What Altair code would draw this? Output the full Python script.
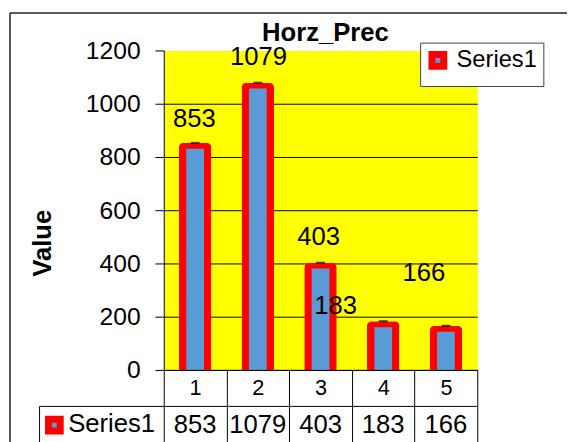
import altair as alt
import pandas as pd

# ---- data ----
categories = ["1", "2", "3", "4", "5"]
values = [853, 1079, 403, 183, 166]
series_name = "Series1"
chart_title = "Horz_Prec"
y_title = "Value"
y_ticks = [0, 200, 400, 600, 800, 1000, 1200]
# where the data labels sit in the picture (category units / value units)
label_pos = [0.99, 2.01, 2.97, 3.24, 4.65]
label_height = [944, 1174, 500, 241, 363]

df = pd.DataFrame({
    "cat": categories,
    "value": values,
    "series": [series_name] * len(categories),
    "label_pos": label_pos,
    "label_height": label_height,
})

FONT = "Liberation Sans"
W, H = 318, 324
BLUE = "#5B9BD5"
RED = "#FF0000"

band = alt.Scale(domain=categories, paddingInner=0, paddingOuter=0)
yscale = alt.Scale(domain=[0, 1200], nice=False, zero=True)

x_axis = alt.Axis(
    title=None, labelAngle=0, grid=False, tickBand="extent", tickSize=77,
    tickColor="black", domainColor="black", labelColor="black",
    labelFontSize=22, labelBaseline="middle", labelPadding=-59, zindex=1,
)
y_axis = alt.Axis(
    values=y_ticks, format="d", title=y_title, grid=True, gridColor="black",
    gridOpacity={"condition": {"test": "datum.value >= 1200", "value": 0}, "value": 1},
    domainColor="black", tickColor="black", tickSize=9, labelColor="black",
    labelFontSize=25, labelPadding=15, titleFontSize=26, titleFontWeight="bold",
    titleColor="black", titleX=-123, titleY=195, titleAngle=270,
    titleAlign="center", titleBaseline="middle",
)

base = alt.Chart(df)

# red outer bar, blue inner bar
bars_outer = base.mark_bar(size=33, color=RED, cornerRadiusEnd=5).encode(
    x=alt.X("cat:O", scale=band, axis=x_axis),
    y=alt.Y("value:Q", scale=yscale, axis=y_axis),
)
bars_inner = base.mark_bar(size=18, yOffset=6, clip=True).encode(
    x=alt.X("cat:O", scale=band, axis=None),
    y=alt.Y("value:Q", scale=yscale, axis=y_axis),
    color=alt.Color("series:N", scale=alt.Scale(domain=[series_name], range=[BLUE]),
                    legend=alt.Legend(
        title=None, orient="none", legendX=260, legendY=-8, padding=6,
        strokeColor="#404040", fillColor="white",
        labelFontSize=24, labelColor="black", labelOffset=7,
        symbolType="square", symbolSize=144, symbolStrokeColor=RED,
        symbolStrokeWidth=7, symbolFillColor=BLUE, symbolOpacity=1,
    )),
)

caps = base.mark_tick(color="black", thickness=2, size=9).encode(
    x=alt.X("cat:O", scale=band, axis=None),
    y=alt.Y("value:Q", scale=yscale, axis=y_axis),
)

labels = base.mark_text(fontSize=26, font=FONT, color="black", baseline="middle",
                        align="center").encode(
    x=alt.X("label_pos:Q", scale=alt.Scale(domain=[0.5, 5.5], nice=False, zero=False), axis=None),
    y=alt.Y("label_height:Q", scale=yscale, axis=y_axis),
    text="value:Q",
)

table_vals = base.mark_text(fontSize=26, font=FONT, color="black", baseline="middle",
                            align="center").encode(
    x=alt.X("cat:O", scale=band, axis=None),
    y=alt.value(380),
    text="value:Q",
)

key_df = pd.DataFrame({"name": [series_name]})
table_key = alt.Chart(key_df).mark_point(shape="square", size=144, filled=True,
                                         fill=BLUE, stroke=RED, strokeWidth=7,
                                         opacity=1).encode(
    x=alt.value(-111), y=alt.value(380),
)
table_name = alt.Chart(key_df).mark_text(fontSize=26, font=FONT, color="black",
                                         align="left", baseline="middle").encode(
    x=alt.value(-97), y=alt.value(379), text="name:N",
)

# table and frame lines
row_line = alt.Chart(key_df).mark_rule(color="black", strokeWidth=1).encode(
    x=alt.value(-126), x2=alt.value(318), y=alt.value(361))
cell_left = alt.Chart(key_df).mark_rule(color="black", strokeWidth=1).encode(
    x=alt.value(-126), y=alt.value(361), y2=alt.value(420))
frame_top = alt.Chart(key_df).mark_rule(color="#222222", strokeWidth=1.5).encode(
    x=alt.value(-156), x2=alt.value(430), y=alt.value(-38))
frame_left = alt.Chart(key_df).mark_rule(color="#222222", strokeWidth=1.5).encode(
    x=alt.value(-156), y=alt.value(-38), y2=alt.value(420))
title_mark = alt.Chart(pd.DataFrame({"t": [chart_title]})).mark_text(
    fontSize=26, fontWeight="bold", font=FONT, color="black", align="center",
    baseline="alphabetic").encode(x=alt.value(164), y=alt.value(-10), text="t:N")

chart = alt.layer(
    bars_outer, bars_inner, caps, labels, table_vals, row_line, cell_left, table_key,
    table_name, frame_top, frame_left, title_mark,
).resolve_scale(x="independent").properties(
    width=W, height=H,
    autosize=alt.AutoSizeParams(type="none"),
    padding={"left": 158, "top": 40, "right": 91, "bottom": 70},
).configure(font=FONT).configure_view(fill="#FFFF00", stroke="transparent")

chart.save("out.html", embed_options={"renderer": "svg", "actions": False})
